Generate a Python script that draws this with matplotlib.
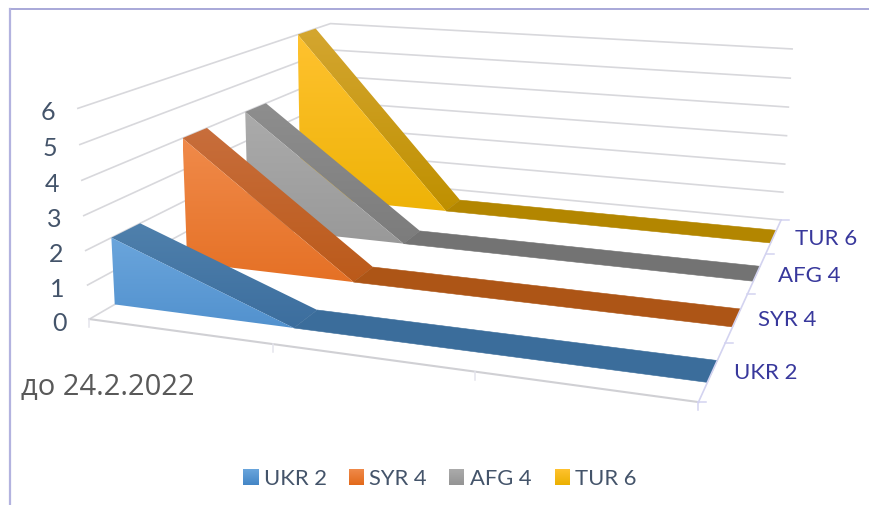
import numpy as np
import matplotlib
matplotlib.use("Agg")
import matplotlib.pyplot as plt
from matplotlib.patches import Polygon
from matplotlib.colors import LinearSegmentedColormap

plt.rcParams['font.family'] = ['Lato', 'Open Sans', 'DejaVu Sans']

# ---- data ----
categories = ["до 24.2.2022", "", "", ""]
series_names = ["UKR 2", "SYR 4", "AFG 4", "TUR 6"]
ukr_values = [2, 0, 0, 0]
syr_values = [4, 0, 0, 0]
afg_values = [4, 0, 0, 0]
tur_values = [6, 0, 0, 0]
value_ticks = [0, 1, 2, 3, 4, 5, 6]

# ---- styles ----
face_top = ["#6aa5dc", "#f08a4a", "#ababab", "#ffc22f"]
face_bot = ["#4486c6", "#e2691a", "#949494", "#ebb000"]
ribbon_top = ["#4f80ac", "#c86e3c", "#8e8e8e", "#d4a630"]
ribbon_bot = ["#3c6e9e", "#bb5a1a", "#7c7c7c", "#bf9000"]
ribbon_flat = ["#3b6d9b", "#ad5516", "#737373", "#b38600"]
GRID = "#d8d8dc"
AXIS = "#d3d3f0"
TICK_TXT = "#44546a"
SER_TXT = "#38389c"
CAT_TXT = "#595959"

fig = plt.figure(figsize=(8.70, 5.06), dpi=100)
ax = fig.add_axes([0, 0, 1, 1])
ax.set_xlim(0, 870)
ax.set_ylim(506, 0)
ax.axis("off")

# ---- perspective camera of the 3-D chart: (category, series, value) -> figure position ----
anchors_world = np.array([
    (0, 0, 0), (1, 0, 0), (2, 0, 0), (3, 0, 0),
    (3, 4, 0), (0, 4, 0), (0, 0, 6), (0, 4, 6), (3, 4, 6)], float)
anchors_view = np.array([
    (90.7, 320), (273, 345.5), (475, 373), (698, 403),
    (781.7, 220.7), (331, 179), (76.7, 108.7), (331.7, 25), (791.7, 50)], float)
rows = []
for (X, Y, Z), (u, v) in zip(anchors_world, anchors_view):
    rows.append([X, Y, Z, 1, 0, 0, 0, 0, -u*X, -u*Y, -u*Z, -u])
    rows.append([0, 0, 0, 0, X, Y, Z, 1, -v*X, -v*Y, -v*Z, -v])
cam = np.linalg.svd(np.array(rows))[2][-1].reshape(3, 4)


def project(X, Y, Z):
    q = cam @ np.array([X, Y, Z, 1.0])
    return q[0] / q[2], q[1] / q[2]


def gradient_poly(pts, c0, c1, zorder):
    pts = np.array(pts)
    poly = Polygon(pts, closed=True, fc="none", ec="none", zorder=zorder)
    ax.add_patch(poly)
    cmap = LinearSegmentedColormap.from_list("g", [c0, c1])
    ext = (pts[:, 0].min(), pts[:, 0].max(), pts[:, 1].max(), pts[:, 1].min())
    im = ax.imshow(np.linspace(0, 1, 128)[:, None], cmap=cmap, extent=ext,
                   aspect="auto", zorder=zorder, interpolation="bilinear")
    im.set_clip_path(poly)
    ax.set_xlim(0, 870)
    ax.set_ylim(506, 0)


# ---- frame ----
ax.plot([10, 870], [10, 10], color="#9a9ad2", lw=1.2, zorder=1)
ax.plot([10, 10], [10, 506], color="#b3b3df", lw=1.6, zorder=1)

# ---- walls and grid ----
n_cat = len(categories) - 1
n_ser = len(series_names)
for v in value_ticks:
    p0, p1, p2 = project(0, 0, v), project(0, n_ser, v), project(n_cat, n_ser, v)
    ax.plot([p0[0], p1[0], p2[0]], [p0[1], p1[1], p2[1]], color=GRID, lw=1.2, zorder=2)
    ax.text(p0[0] - 30, p0[1] + 3, str(v), color=TICK_TXT, fontsize=18,
            ha="center", va="center", zorder=8)

# floor edges and ticks
f0, f1 = project(0, 0, 0), project(n_cat, 0, 0)
ax.plot([f0[0], f1[0]], [f0[1], f1[1]], color="#d0d0d4", lw=1.5, zorder=2)
for i in range(n_cat + 1):
    p = project(i, 0, 0)
    ax.plot([p[0], p[0]], [p[1], p[1] + 8], color=AXIS if i == n_cat else "#e4e4ec", lw=1.1, zorder=2)
r0, r1 = project(n_cat, 0, 0), project(n_cat, n_ser, 0)
ax.plot([r0[0], r1[0]], [r0[1], r1[1]], color=AXIS, lw=1.2, zorder=7)
for j in range(n_ser + 1):
    p = project(n_cat, j, 0)
    ax.plot([p[0], p[0] + 8], [p[1], p[1]], color=AXIS, lw=1.1, zorder=7)

# ---- area ribbons, back to front ----
all_values = [ukr_values, syr_values, afg_values, tur_values]
Y0, Y1 = 0.31, 0.68
for idx in range(n_ser - 1, -1, -1):
    vals = all_values[idx]
    z = 3 + (n_ser - 1 - idx)
    y0, y1 = idx + Y0, idx + Y1
    # ribbon top surface: runs of equal value become one flat piece
    i = 0
    while i < len(vals) - 1:
        k = i + 1
        if vals[i] == vals[k]:
            while k < len(vals) - 1 and vals[k + 1] == vals[i]:
                k += 1
        quad = [project(i, y0, vals[i]), project(i, y1, vals[i]),
                project(k, y1, vals[k]), project(k, y0, vals[k])]
        if vals[i] != vals[k]:
            gradient_poly(quad, ribbon_top[idx], ribbon_bot[idx], z)
        else:
            ax.add_patch(Polygon(quad, closed=True, fc=ribbon_flat[idx], ec=ribbon_flat[idx],
                                 lw=0.4, zorder=z))
        i = k
    # front face
    front = [project(i, y0, v) for i, v in enumerate(vals)]
    front += [project(i, y0, 0) for i in range(len(vals) - 1, -1, -1)]
    gradient_poly(front, face_top[idx], face_bot[idx], z + 0.5)
    # series label on the depth axis
    p = project(n_cat, idx + 0.5, 0)
    ax.text(p[0] + 21, p[1] + 1.5, series_names[idx], color=SER_TXT, fontsize=16,
            ha="left", va="center", zorder=9)

# ---- category label ----
ax.text(21, 388, categories[0], color=CAT_TXT, fontsize=21, ha="left", va="center",
        family=['Open Sans', 'DejaVu Sans'], zorder=9)

# ---- legend ----
swatch_x = [243.3, 349, 449, 555]
label_x = [264, 369, 470, 575]
for idx, name in enumerate(series_names):
    gradient_poly([(swatch_x[idx], 470.3), (swatch_x[idx] + 15.3, 470.3),
                   (swatch_x[idx] + 15.3, 485.7), (swatch_x[idx], 485.7)],
                  face_top[idx], face_bot[idx], 9)
    ax.text(label_x[idx], 479.5, name, color=TICK_TXT, fontsize=15.8, ha="left", va="center", zorder=9)

fig.savefig("out.png", dpi=100)
